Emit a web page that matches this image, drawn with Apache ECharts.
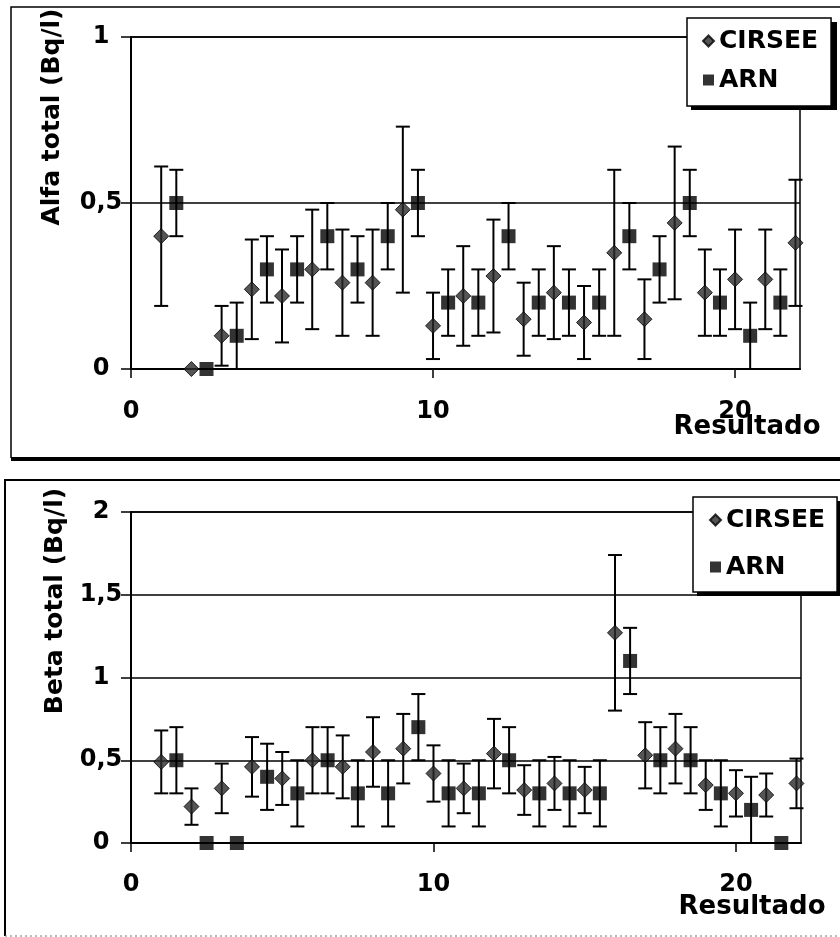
<!DOCTYPE html>
<html>
<head>
<meta charset="utf-8">
<script src="https://cdn.jsdelivr.net/npm/echarts@6/dist/echarts.min.js"></script>
<style>
html,body{margin:0;padding:0;background:#fff;}
#wrap{position:relative;width:840px;height:937px;overflow:hidden;}
#c1{position:absolute;left:0;top:0;width:840px;height:470px;}
#c2{position:absolute;left:0;top:470px;width:840px;height:467px;}
</style>
</head>
<body>
<div id="wrap"><div id="c1"></div><div id="c2"></div></div>
<script>
// ---- Data ----
const xTicks = [0, 10, 20];
const seriesNames = ['CIRSEE', 'ARN'];
const axisTitleAlfa = 'Alfa total (Bq/l)';
const axisTitleBeta = 'Beta total (Bq/l)';
const axisTitleX = 'Resultado';

const resultCIRSEE = [1, 2, 3, 4, 5, 6, 7, 8, 9, 10, 11, 12, 13, 14, 15, 16, 17, 18, 19, 20, 21, 22];
const resultARN = [1.5, 2.5, 3.5, 4.5, 5.5, 6.5, 7.5, 8.5, 9.5, 10.5, 11.5, 12.5, 13.5, 14.5, 15.5, 16.5, 17.5, 18.5, 19.5, 20.5, 21.5];

const alfaCIRSEE    = [0.40, 0.00, 0.10, 0.24, 0.22, 0.30, 0.26, 0.26, 0.48, 0.13, 0.22, 0.28, 0.15, 0.23, 0.14, 0.35, 0.15, 0.44, 0.23, 0.27, 0.27, 0.38];
const alfaCIRSEEErr = [0.21, 0.00, 0.09, 0.15, 0.14, 0.18, 0.16, 0.16, 0.25, 0.10, 0.15, 0.17, 0.11, 0.14, 0.11, 0.25, 0.12, 0.23, 0.13, 0.15, 0.15, 0.19];
const alfaARN       = [0.5, 0.0, 0.1, 0.3, 0.3, 0.4, 0.3, 0.4, 0.5, 0.2, 0.2, 0.4, 0.2, 0.2, 0.2, 0.4, 0.3, 0.5, 0.2, 0.1, 0.2];
const alfaARNErr    = [0.1, 0.0, 0.1, 0.1, 0.1, 0.1, 0.1, 0.1, 0.1, 0.1, 0.1, 0.1, 0.1, 0.1, 0.1, 0.1, 0.1, 0.1, 0.1, 0.1, 0.1];

const betaCIRSEE    = [0.49, 0.22, 0.33, 0.46, 0.39, 0.50, 0.46, 0.55, 0.57, 0.42, 0.33, 0.54, 0.32, 0.36, 0.32, 1.27, 0.53, 0.57, 0.35, 0.30, 0.29, 0.36];
const betaCIRSEEErr = [0.19, 0.11, 0.15, 0.18, 0.16, 0.20, 0.19, 0.21, 0.21, 0.17, 0.15, 0.21, 0.15, 0.16, 0.14, 0.47, 0.20, 0.21, 0.15, 0.14, 0.13, 0.15];
const betaARN       = [0.5, 0.0, 0.0, 0.4, 0.3, 0.5, 0.3, 0.3, 0.7, 0.3, 0.3, 0.5, 0.3, 0.3, 0.3, 1.1, 0.5, 0.5, 0.3, 0.2, 0.0];
const betaARNErr    = [0.2, 0.0, 0.0, 0.2, 0.2, 0.2, 0.2, 0.2, 0.2, 0.2, 0.2, 0.2, 0.2, 0.2, 0.2, 0.2, 0.2, 0.2, 0.2, 0.2, 0.0];

// ---- Helpers ----
const FONT = '"DejaVu Sans", "Liberation Sans", Arial, sans-serif';
function pts(xs, ys) { return xs.map((x, i) => [x, ys[i]]); }
function errData(xs, ys, es) {
  const out = [];
  xs.forEach((x, i) => { if (es[i] > 0) out.push([x, ys[i] - es[i], ys[i] + es[i]]); });
  return out;
}
function renderErr(params, api) {
  const x = api.value(0), lo = api.value(1), hi = api.value(2);
  const pHi = api.coord([x, hi]);
  const pLo = api.coord([x, lo]);
  const w = 7;
  const st = { stroke: '#000', lineWidth: 2 };
  return {
    type: 'group',
    children: [
      { type: 'line', shape: { x1: pHi[0], y1: pHi[1], x2: pLo[0], y2: pLo[1] }, style: st },
      { type: 'line', shape: { x1: pHi[0] - w, y1: pHi[1], x2: pHi[0] + w, y2: pHi[1] }, style: st },
      { type: 'line', shape: { x1: pLo[0] - w, y1: pLo[1], x2: pLo[0] + w, y2: pLo[1] }, style: st }
    ]
  };
}
function yFmt(v) { return String(v).replace('.', ','); }

function buildOption(cfg) {
  return {
    animation: false,
    backgroundColor: '#fff',
    grid: { left: 131, top: cfg.gridTop, width: cfg.gridW, height: cfg.gridH, show: true,
            borderColor: '#000', borderWidth: 1.5, backgroundColor: 'transparent' },
    xAxis: {
      type: 'value', min: 0, max: 22.15,
      axisLine: { show: true, lineStyle: { color: '#000', width: 2 } },
      axisTick: { show: true, length: 9, customValues: xTicks, lineStyle: { color: '#000', width: 1.5 } },
      axisLabel: { customValues: xTicks, margin: cfg.xMargin, color: '#000', fontFamily: FONT, fontWeight: 'bold', fontSize: 24 },
      splitLine: { show: false }
    },
    yAxis: {
      type: 'value', min: 0, max: cfg.yMax, interval: 0.5,
      axisLine: { show: true, lineStyle: { color: '#000', width: 2 } },
      axisTick: { show: true, length: 10, lineStyle: { color: '#000', width: 1.5 } },
      axisLabel: { formatter: yFmt, margin: 30, align: 'center', color: '#000', fontFamily: FONT, fontWeight: 'bold', fontSize: 24 },
      splitLine: { show: true, lineStyle: { color: '#000', width: 1.5 } }
    },
    legend: {
      orient: 'vertical',
      left: cfg.legLeft, top: cfg.legTop,
      data: [{ name: seriesNames[0], icon: 'diamond' }, { name: seriesNames[1], icon: 'rect' }],
      itemWidth: 11, itemHeight: 11, itemGap: cfg.legGap,
      padding: cfg.legPad,
      selectedMode: false,
      backgroundColor: '#fff', borderColor: '#000', borderWidth: 1.5,
      textStyle: { color: '#000', fontFamily: FONT, fontWeight: 'bold', fontSize: 25, lineHeight: 28 },
      z: 20
    },
    series: [
      { type: 'custom', data: errData(resultCIRSEE, cfg.c, cfg.cErr), encode: { x: 0, y: [1, 2] }, renderItem: renderErr, z: 3, silent: true },
      { type: 'custom', data: errData(resultARN, cfg.a, cfg.aErr), encode: { x: 0, y: [1, 2] }, renderItem: renderErr, z: 3, silent: true },
      { name: seriesNames[0], type: 'scatter', data: pts(resultCIRSEE, cfg.c), symbol: 'diamond', symbolSize: 15, z: 5,
        itemStyle: { color: '#2a2a2a', borderColor: '#000', borderWidth: 1 } },
      { name: seriesNames[1], type: 'scatter', data: pts(resultARN, cfg.a), symbol: 'rect', symbolSize: 14, z: 5,
        itemStyle: { color: '#000' } }
    ],
    graphic: cfg.graphic
  };
}

const opt1 = buildOption({
  gridTop: 37, gridW: 669, gridH: 332, yMax: 1, xMargin: 31,
  legLeft: 687, legTop: 18, legGap: 11, legPad: [9, 13, 12, 15],
  c: alfaCIRSEE, cErr: alfaCIRSEEErr, a: alfaARN, aErr: alfaARNErr,
  graphic: [
    { type: 'polyline', shape: { points: [[842, 7], [11, 7], [11, 458]] }, style: { stroke: '#000', lineWidth: 1.5, fill: null }, z: 1 },
    { type: 'line', shape: { x1: 11, y1: 459, x2: 842, y2: 459 }, style: { stroke: '#000', lineWidth: 4 }, z: 1 },
    { type: 'rect', shape: { x: 691, y: 22, width: 146, height: 88 }, style: { fill: '#000' }, z: 15 },
    { type: 'text', x: 52, y: 117, rotation: Math.PI / 2,
      style: { text: axisTitleAlfa, font: 'bold 25px ' + FONT, fill: '#000', align: 'center', verticalAlign: 'middle' }, z: 10 },
    { type: 'text', x: 747, y: 427,
      style: { text: axisTitleX, font: 'bold 26px ' + FONT, fill: '#000', align: 'center', verticalAlign: 'middle' }, z: 10 }
  ]
});

const opt2 = buildOption({
  gridTop: 42, gridW: 670, gridH: 331, yMax: 2, xMargin: 30,
  legLeft: 693, legTop: 27, legGap: 19, legPad: [9, 12, 11, 16],
  c: betaCIRSEE, cErr: betaCIRSEEErr, a: betaARN, aErr: betaARNErr,
  graphic: [
    { type: 'polyline', shape: { points: [[842, 10], [5, 10], [5, 466]] }, style: { stroke: '#000', lineWidth: 2, fill: null }, z: 1 },
    { type: 'line', shape: { x1: 5, y1: 466, x2: 842, y2: 466 }, style: { stroke: '#777', lineWidth: 1, lineDash: [2, 3] }, z: 1 },
    { type: 'rect', shape: { x: 697, y: 31, width: 146, height: 95 }, style: { fill: '#000' }, z: 15 },
    { type: 'text', x: 55, y: 131, rotation: Math.PI / 2,
      style: { text: axisTitleBeta, font: 'bold 25px ' + FONT, fill: '#000', align: 'center', verticalAlign: 'middle' }, z: 10 },
    { type: 'text', x: 752, y: 437,
      style: { text: axisTitleX, font: 'bold 26px ' + FONT, fill: '#000', align: 'center', verticalAlign: 'middle' }, z: 10 }
  ]
});

echarts.init(document.getElementById('c1'), null, { renderer: 'canvas' }).setOption(opt1);
echarts.init(document.getElementById('c2'), null, { renderer: 'canvas' }).setOption(opt2);
</script>
</body>
</html>
